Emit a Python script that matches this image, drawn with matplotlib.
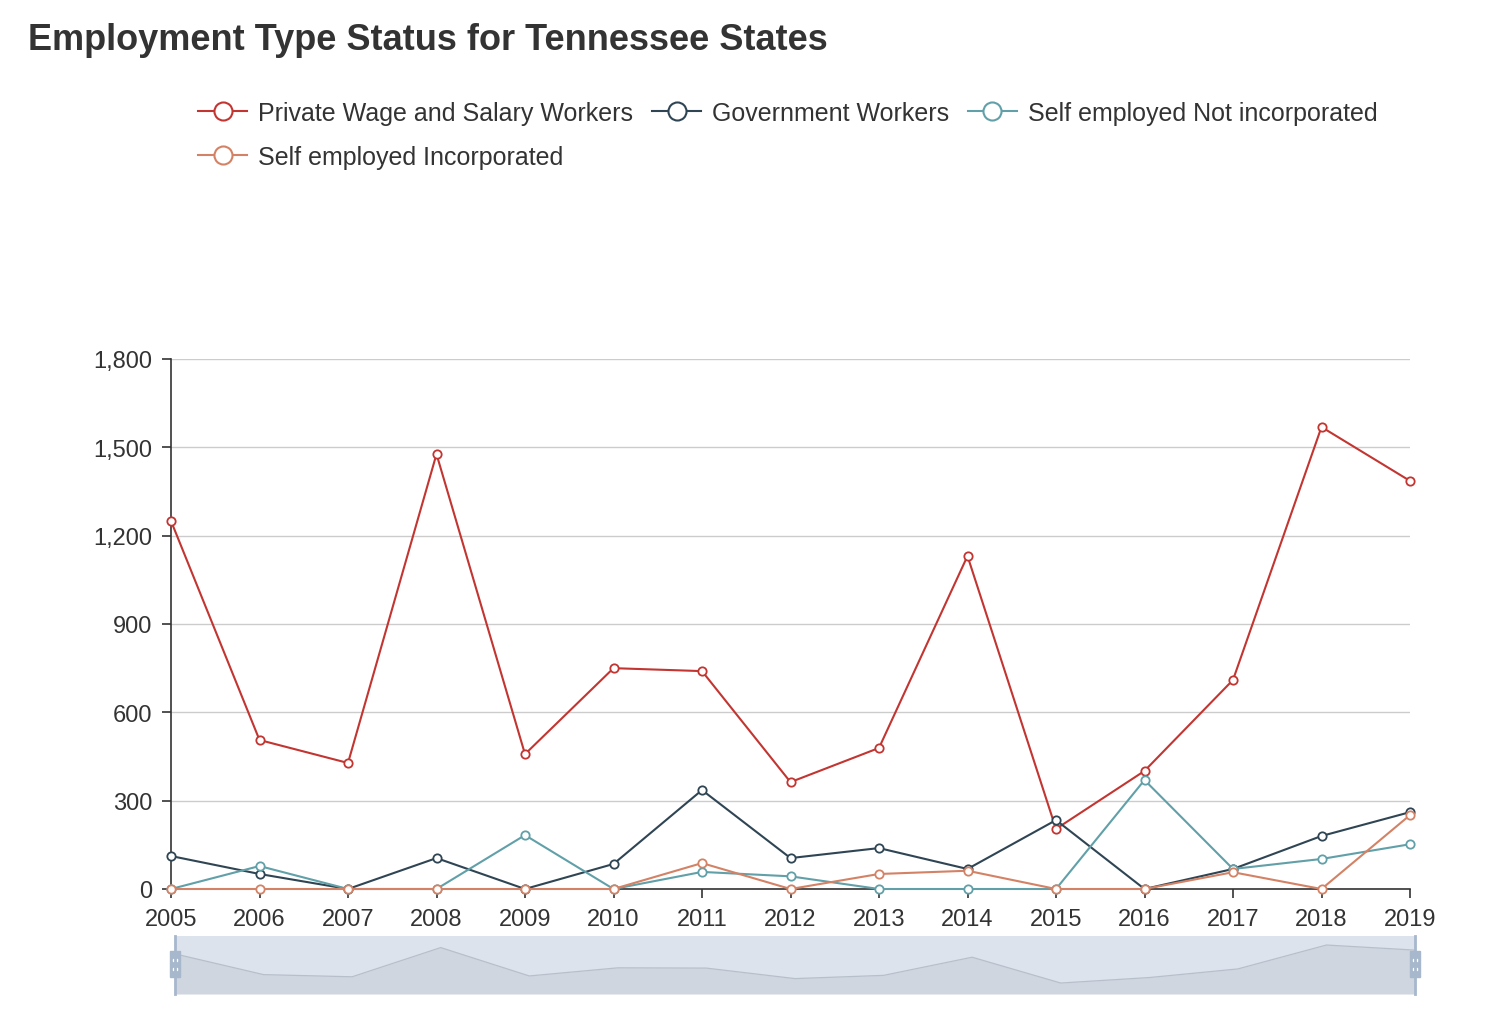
import numpy as np
import matplotlib
matplotlib.use("Agg")
import matplotlib.pyplot as plt
from matplotlib.lines import Line2D
from matplotlib.patches import Rectangle
from matplotlib.ticker import FuncFormatter

plt.rcParams['font.family'] = ['Liberation Sans', 'DejaVu Sans']

years = list(range(2005, 2020))
private = [1250, 506, 428, 1477, 458, 750, 740, 363, 479, 1131, 204, 401, 710, 1569, 1386]
government = [112, 51, 0, 105, 0, 85, 336, 105, 139, 68, 234, 0, 68, 180, 261]
self_not_inc = [0, 78, 0, 0, 183, 0, 58, 43, 0, 0, 0, 370, 68, 102, 152]
self_inc = [0, 0, 0, 0, 0, 0, 88, 0, 51, 62, 0, 0, 57, 0, 251]

names = ["Private Wage and Salary Workers", "Government Workers",
         "Self employed Not incorporated", "Self employed Incorporated"]
colors = ['#c23531', '#2f4554', '#61a0a8', '#d48265']
series = [private, government, self_not_inc, self_inc]

W, H = 1490, 1020
def fx(x): return x / W
def fy(y): return 1 - y / H

fig = plt.figure(figsize=(W / 100, H / 100), dpi=100)

# title
fig.text(fx(28), fy(40), "Employment Type Status for Tennessee States",
         fontsize=26, fontweight='bold', color='#333333', va='center', ha='left')

# legend, drawn by hand to match the layout
legend_pos = [(198, 112), (652, 112), (968, 112), (198, 156)]
for name, c, (lx, ly) in zip(names, colors, legend_pos):
    fig.add_artist(Line2D([fx(lx), fx(lx + 49)], [fy(ly), fy(ly)], color=c, lw=1.5,
                          transform=fig.transFigure))
    fig.add_artist(Line2D([fx(lx + 24.5)], [fy(ly)], marker='o', markersize=13,
                          mfc='white', mec=c, mew=1.5, transform=fig.transFigure))
    fig.text(fx(lx + 60), fy(ly + 2), name, fontsize=18, color='#333333', va='center', ha='left')

# main chart
ax = fig.add_axes([fx(171), fy(890), (1410 - 171) / W, (890 - 360) / H])
for vals, c, name in zip(series, colors, names):
    ax.plot(years, vals, color=c, lw=1.5, marker='o', markersize=6,
            mfc='white', mec=c, mew=1.3, label=name, zorder=3, clip_on=False)

ax.set_xlim(2005, 2019)
ax.set_ylim(0, 1800)
ax.set_xticks(years)
ax.set_yticks(range(0, 1801, 300))
ax.yaxis.set_major_formatter(FuncFormatter(lambda v, p: f"{int(v):,}"))
ax.grid(axis='y', color='#cccccc', lw=1)
ax.set_axisbelow(True)
for s in ['top', 'right']:
    ax.spines[s].set_visible(False)
for s in ['left', 'bottom']:
    ax.spines[s].set_color('#333333')
    ax.spines[s].set_linewidth(1.2)
ax.tick_params(axis='both', colors='#333333', labelsize=17, length=6.5, width=1.2, direction='out')
ax.tick_params(axis='x', pad=7)
ax.tick_params(axis='y', pad=7)

# data zoom slider
sx = fig.add_axes([fx(175), fy(995), (1415 - 175) / W, (995 - 937) / H])
sx.set_facecolor('#dde3ec')
sx.fill_between(years, private, -190, color='#cfd6e0', lw=0)
sx.plot(years, private, color='#b7bfcb', lw=0.9)
sx.set_xlim(2005, 2019)
sx.set_ylim(-190, 1893)
sx.set_xticks([])
sx.set_yticks([])
for s in sx.spines.values():
    s.set_visible(False)
for hx in [175, 1415]:
    fig.add_artist(Line2D([fx(hx), fx(hx)], [fy(937), fy(995)], color='#a7b7cc', lw=2,
                          transform=fig.transFigure))
    fig.add_artist(Rectangle((fx(hx - 5), fy(978)), 10 / W, 26 / H, color='#a7b7cc',
                             transform=fig.transFigure))
    for hy in [961, 970]:
        fig.add_artist(Rectangle((fx(hx - 2), fy(hy + 1)), 4 / W, 2 / H, color='white',
                                 transform=fig.transFigure))

fig.savefig("out.png", dpi=100)
